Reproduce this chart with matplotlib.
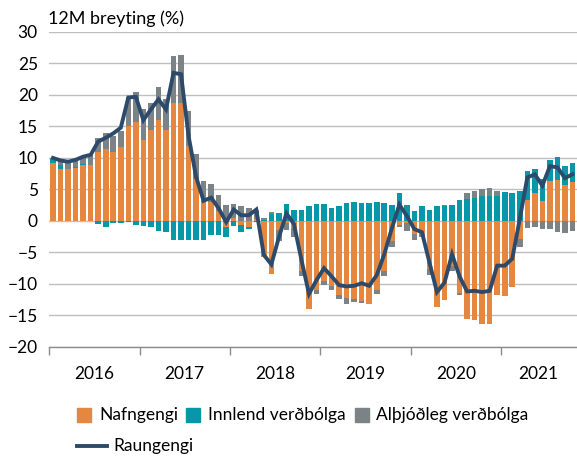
import numpy as np
import matplotlib.pyplot as plt
from matplotlib.patches import Rectangle
from matplotlib.lines import Line2D

plt.rcParams['font.family'] = ['Lato', 'DejaVu Sans']

# Mánaðarleg gögn, jan 2016 - okt 2021
years = ['2016', '2017', '2018', '2019', '2020', '2021']

nafngengi = [9.2, 8.2, 8.2, 8.4, 8.8, 8.9, 11.0, 11.4, 11.0, 11.7, 15.1, 15.7,
             12.9, 14.5, 16.0, 14.5, 18.7, 18.7, 11.9, 6.7, 3.0, 3.0, 1.5, -1.0,
             0.4, -0.7, -1.0, 0.3, -5.8, -8.5, -1.5, -0.3, -1.2, -7.9, -14.0, -10.9,
             -9.6, -10.3, -11.7, -12.3, -12.4, -12.7, -13.2, -10.9, -8.0, -3.2, -0.6, -0.3,
             -2.1, -2.0, -7.6, -13.7, -12.6, -7.1, -11.5, -15.6, -15.8, -16.4, -16.4, -11.8,
             -11.9, -10.5, -2.8, 3.4, 4.4, 3.2, 6.3, 6.5, 5.7, 6.2]

innlend = [0.6, 0.7, 0.1, 0.1, 0.2, 0.0, -0.5, -1.0, -0.4, -0.4, -0.2, -0.6,
           -0.8, -0.9, -1.6, -1.8, -3.0, -3.0, -3.0, -3.0, -3.0, -2.3, -2.3, -1.5,
           -0.8, -1.0, -0.3, -0.1, 0.1, 1.1, 1.3, 2.7, 1.8, 1.8, 2.3, 2.7,
           2.7, 2.1, 2.4, 2.8, 3.0, 2.9, 2.8, 3.0, 2.8, 2.6, 4.4, 2.5,
           1.5, 2.3, 1.7, 2.3, 2.4, 2.6, 3.3, 3.5, 3.6, 3.9, 4.0, 3.9,
           4.6, 4.5, 4.8, 4.6, 3.9, 3.5, 3.3, 3.7, 3.0, 3.0]

althjodleg = [0.2, 0.6, 1.0, 1.1, 1.0, 1.5, 2.1, 2.6, 2.5, 2.5, 4.6, 4.7,
              4.8, 4.3, 5.2, 4.8, 7.5, 7.6, 5.6, 3.9, 3.3, 2.9, 2.6, 2.5,
              2.3, 2.4, 2.1, 1.5, 0.4, 0.3, -1.7, -1.2, -1.3, -0.9, 0.0, -0.7,
              -0.6, -0.6, -0.7, -0.9, -0.5, -0.3, 0.0, -0.7, -0.8, -0.9, -0.4, -1.3,
              -1.0, -0.6, -1.0, 0.1, 0.2, -0.8, -0.3, 0.9, 1.2, 1.2, 1.3, 0.8,
              0.0, 0.0, -1.4, -1.1, -0.9, -1.3, -1.3, -1.8, -1.9, -1.6]

raungengi = [10.0, 9.6, 9.4, 9.7, 10.2, 10.5, 12.6, 13.2, 13.9, 14.8, 19.6, 19.7,
             16.0, 17.7, 19.3, 17.7, 23.5, 23.3, 13.5, 7.0, 3.2, 3.7, 2.0, -0.2,
             1.8, 0.9, 0.9, 1.8, -5.4, -6.9, -2.6, 1.2, -0.5, -6.2, -11.6, -9.4,
             -7.5, -8.8, -10.2, -10.4, -10.3, -9.9, -10.3, -8.6, -5.3, -1.2, 2.6, 0.8,
             -1.3, -1.8, -6.6, -11.3, -9.8, -5.3, -8.8, -11.2, -11.1, -11.3, -11.1, -7.1,
             -7.1, -6.0, 0.3, 6.9, 7.4, 5.6, 8.7, 8.5, 6.8, 7.4]

c_naf = '#E5873F'
c_inn = '#0897A8'
c_alt = '#7B8387'
c_raun = '#2E4A6B'

x = np.arange(len(raungengi))

fig = plt.figure(figsize=(5.77, 4.57), dpi=100)
ax = fig.add_axes([0.085, 0.241, 0.915, 0.689])

# staflaðar súlur, jákvætt upp og neikvætt niður
pos = np.zeros(len(x))
neg = np.zeros(len(x))
for vals, col in [(nafngengi, c_naf), (innlend, c_inn), (althjodleg, c_alt)]:
    v = np.array(vals)
    base = np.where(v >= 0, pos, neg)
    ax.bar(x, v, bottom=base, width=0.74, color=col, zorder=2)
    pos += np.clip(v, 0, None)
    neg += np.clip(v, None, 0)

ax.plot(x, raungengi, color=c_raun, lw=2.8, zorder=3, solid_joinstyle='miter')

ax.set_ylim(-20, 30)
ax.set_xlim(-0.53, 69.6)
ax.set_yticks(np.arange(-20, 31, 5))
ax.yaxis.grid(True, color='#BFBFBF', lw=1.0, zorder=0)
ax.set_axisbelow(True)
ax.tick_params(axis='y', length=0, pad=8, labelsize=12.5)

ax.set_xticks(np.arange(-0.5, 60, 12))
ax.set_xticklabels([])
ax.set_xticks([5.5, 17.5, 29.5, 41.5, 53.5, 64.5], minor=True)
ax.set_xticklabels(years, minor=True)
ax.tick_params(axis='x', which='major', length=6, width=1, color='#8C8C8C', direction='out')
ax.tick_params(axis='x', which='minor', length=0, pad=14, labelsize=12.5)

for s in ['top', 'right', 'left']:
    ax.spines[s].set_visible(False)
ax.spines['bottom'].set_color('#8C8C8C')
ax.spines['bottom'].set_linewidth(1.0)

fig.text(48 / 577, 1 - 19 / 457, '12M breyting (%)', fontsize=13, va='center', ha='left')

# skýringar
W, H = 577.0, 457.0
legend_items = [(77, 99, c_naf, 'Nafngengi'),
                (186, 208, c_inn, 'Innlend verðbólga'),
                (355, 376, c_alt, 'Alþjóðleg verðbólga')]
for sx, tx, col, lab in legend_items:
    fig.add_artist(Rectangle((sx / W, 1 - 422 / H), 14 / W, 14 / H,
                             transform=fig.transFigure, color=col))
    fig.text(tx / W, 1 - 415 / H, lab, fontsize=12.5, va='center', ha='left')
fig.add_artist(Line2D([77 / W, 107 / W], [1 - 446 / H, 1 - 446 / H],
                      transform=fig.transFigure, color=c_raun, lw=2.8))
fig.text(113 / W, 1 - 446 / H, 'Raungengi', fontsize=12.5, va='center', ha='left')

fig.savefig('out.png', dpi=100)
